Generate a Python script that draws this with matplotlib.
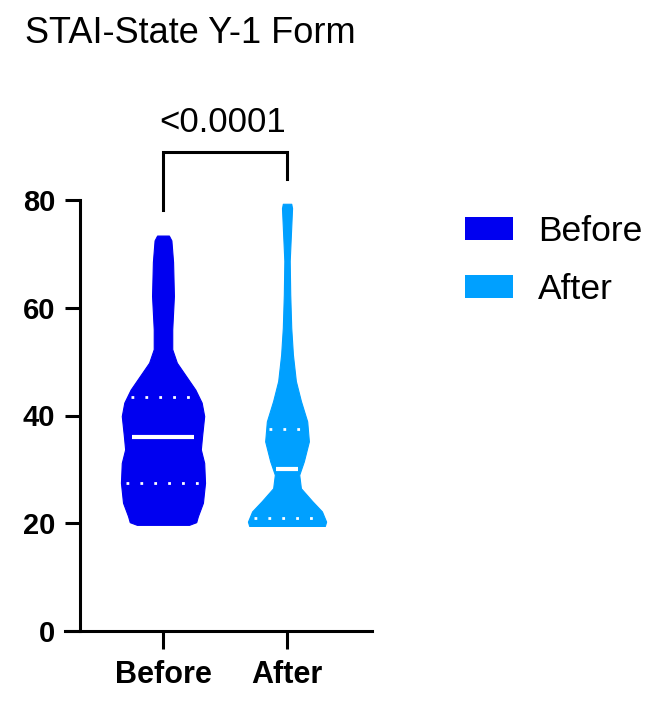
import numpy as np
from matplotlib import pyplot as plt
from matplotlib.patches import Patch

# data
groups = ["Before", "After"]
colors = ["#0000F0", "#00A0FF"]

# violin outline: score levels and relative density (1 = widest)
before_y = [19.7, 20.2, 21.3, 23.8, 27.5, 31.2, 33.7, 36.2, 39.9, 42.4,
            44.8, 47.3, 49.8, 52.3, 56.0, 62.2, 68.5, 72.5, 73.4]
before_density = [0.62, 0.79, 0.83, 0.95, 1.00, 0.98, 0.90, 0.93, 0.98, 0.92,
                  0.77, 0.55, 0.33, 0.22, 0.22, 0.26, 0.24, 0.20, 0.14]
after_y = [19.5, 20.3, 22.2, 24.1, 26.5, 29.0, 31.5, 35.2, 38.9, 42.7,
           46.4, 51.3, 56.3, 62.5, 68.7, 75.0, 78.5, 79.3]
after_density = [0.90, 0.93, 0.83, 0.60, 0.33, 0.29, 0.40, 0.52, 0.48, 0.33,
                 0.21, 0.14, 0.10, 0.076, 0.064, 0.10, 0.12, 0.10]

medians = [36.0, 30.0]
q1 = [27.5, 21.0]
q3 = [43.4, 37.5]
p_text = "<0.0001"

profiles = [(before_y, before_density), (after_y, after_density)]

plt.rcParams["font.family"] = ["Liberation Sans", "DejaVu Sans"]
fig = plt.figure(figsize=(6.64, 7.07), dpi=100)
ax = fig.add_axes([80/664, 76/707, 292/664, 431/707])

max_hw = 0.339
for i, (ys, dens) in enumerate(profiles):
    ys = np.array(ys)
    hw = np.array(dens) * max_hw
    ax.fill_betweenx(ys, i - hw, i + hw, color=colors[i], lw=0.8, edgecolor=colors[i])
    # median solid, quartiles dotted
    w = np.interp(medians[i], ys, hw) * 0.8
    ax.plot([i - w, i + w], [medians[i]]*2, color="white", lw=3, solid_capstyle="butt")
    for q in (q1[i], q3[i]):
        w = np.interp(q, ys, hw) * 0.88
        ax.plot([i - w, i + w], [q, q], color="white", lw=2,
                linestyle=(0, (1, 4)), dash_capstyle="butt")

ax.set_xlim(-0.669, 1.685)
ax.set_ylim(0, 80)
ax.set_xticks([0, 1])
ax.set_xticklabels(groups, fontsize=22, fontweight="bold")
ax.set_yticks([0, 20, 40, 60, 80])
ax.set_yticklabels(["0", "20", "40", "60", "80"], fontsize=21, fontweight="bold")
for s in ["top", "right"]:
    ax.spines[s].set_visible(False)
for s in ["left", "bottom"]:
    ax.spines[s].set_linewidth(2.2)
ax.spines["bottom"].set_bounds(-0.79, 1.685)
ax.tick_params(axis="y", length=11, width=2.2, pad=7)
ax.tick_params(axis="x", length=13, width=2.2, pad=8)

# significance bracket
ax.plot([0, 0, 1, 1], [78.1, 88.9, 88.9, 83.9], color="black", lw=2.2,
        clip_on=False, solid_joinstyle="miter")
ax.text(0.48, 92.65, p_text, ha="center", va="baseline", fontsize=25)

fig.text(25/664, 1 - 43/707, "STAI-State Y-1 Form", fontsize=26, va="baseline")

handles = [Patch(facecolor=c, edgecolor="none") for c in colors]
fig.legend(handles, groups, loc="upper left", bbox_to_anchor=(465/664, 1 - 215/707),
           frameon=False, fontsize=25.5, handlelength=1.36, handleheight=0.65,
           handletextpad=0.7, labelspacing=0.7, borderpad=0, borderaxespad=0)

plt.savefig("out.png", dpi=100)
